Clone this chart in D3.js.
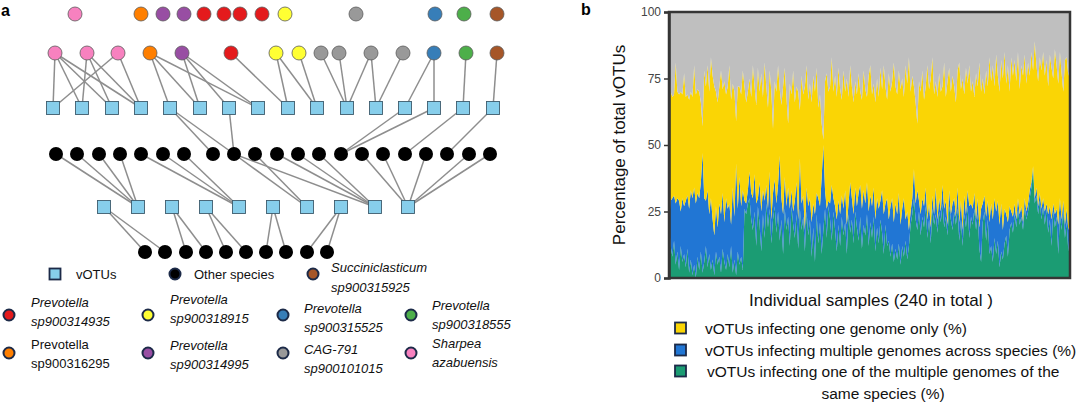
<!DOCTYPE html>
<html>
<head>
<meta charset="utf-8">
<script src="https://cdn.jsdelivr.net/npm/d3@7"></script>
<style>
    body { margin: 0; background: #fff; }
    svg { display: block; font-family: "Liberation Sans", Arial, sans-serif; }
</style>
</head>
<body>
<svg id="chart" width="1080" height="402"></svg>
<script>
// ---------- panel b : share of vOTUs in each of the 240 samples (%) ----------
const sameSpecies = [
    20,12,8,14,5,10,3,12,6,9,4,11,2,7,1,5,0,8,3,10,2,6,12,4,9,3,7,1,10,5,8,2,11,6,3,9,4,12,2,7,1,10,5,8,3,26,24,28,
    30,22,18,25,12,27,20,10,24,15,28,19,26,13,22,27,17,25,14,22,9,26,18,23,12,27,20,15,24,11,26,18,23,10,25,16,22,8,19,6,24,13,21,9,18,26,15,27,
    22,14,25,18,10,20,12,23,16,21,9,24,17,22,13,25,19,14,23,11,20,16,24,12,21,15,23,10,19,13,22,17,9,20,12,14,8,13,6,11,7,13,5,12,8,14,7,12,
    20,24,30,22,18,25,16,23,19,27,15,22,13,26,20,24,17,25,21,28,19,23,16,27,22,18,25,20,26,14,22,12,24,19,27,15,23,20,26,18,24,11,6,21,25,14,22,9,
    12,6,15,9,14,4,10,7,13,16,8,18,21,17,24,19,26,20,23,18,27,22,25,30,34,41,28,31,24,29,22,27,20,26,17,22,12,25,19,23,9,24,18,26,15,21,10,20
];
const acrossSpecies = [
    1,17,22,17,23,20,26,13,24,18,25,20,24,26,29,29,28,24,27,26,45,24,17,29,15,27,15,15,17,14,20,22,21,15,27,17,24,8,32,16,42,16,33,19,30,3,4,5,
    10,10,12,14,16,3,16,15,9,14,7,7,14,9,10,10,11,10,32,8,15,12,9,11,14,6,5,14,12,11,19,10,8,8,9,11,8,13,9,18,8,17,6,29,32,7,11,2,
    6,21,5,9,12,9,12,8,10,12,11,4,19,8,11,9,8,18,12,15,13,12,12,13,10,12,11,12,11,13,7,16,15,8,18,8,19,17,15,17,17,19,15,14,22,8,18,6,
    5,6,11,6,15,4,8,7,8,7,7,6,6,5,4,10,5,5,4,7,7,6,4,6,2,10,5,3,8,7,7,6,7,5,6,12,5,6,6,4,6,8,20,7,6,9,7,12,
    16,16,15,16,15,16,18,11,13,8,13,9,4,6,4,3,4,4,4,3,3,3,3,3,2,1,2,3,3,3,4,3,5,2,7,5,10,3,5,3,11,6,4,3,5,5,8,1
];
const oneGenome = [
    59,41,38,38,53,40,40,45,39,50,39,38,41,37,38,46,41,39,40,30,10,48,43,47,46,53,54,56,43,47,44,54,39,53,39,46,52,47,39,47,16,46,34,42,45,43,38,37,
    35,36,50,33,37,49,34,52,35,52,37,38,38,48,24,37,42,45,25,35,48,41,41,24,47,36,53,37,36,48,18,48,38,54,46,40,43,45,48,46,47,34,42,20,2,41,51,41,
    44,48,40,49,46,50,47,36,52,37,55,40,44,42,42,40,42,45,35,41,45,43,32,51,49,42,39,44,45,42,50,38,56,44,37,55,43,44,60,44,45,46,51,49,38,58,48,65,
    45,46,31,38,25,45,46,48,40,38,58,43,56,52,45,40,46,47,45,37,55,39,54,46,46,48,42,43,44,60,42,57,38,55,40,53,42,48,36,55,42,62,44,47,38,55,43,62,
    46,58,42,59,47,50,54,57,59,49,59,43,58,53,54,52,55,47,53,55,54,48,53,43,49,36,59,46,47,51,52,55,51,54,48,57,57,47,62,54,53,55,55,41,62,57,58,59
];
const yTicks = [0, 25, 50, 75, 100];
const areaLegend = [
    ['one', 'vOTUs infecting one genome only (%)'],
    ['across', 'vOTUs infecting multiple genomes across species (%)'],
    ['same', 'vOTUs infecting one of the multiple genomes of the', 'same species (%)']
];

// ---------- panel a : host / vOTU network ----------
const speciesColor = {
    red: '#e41a1c', blue: '#377eb8', green: '#4daf4a', purple: '#984ea3', orange: '#ff7f00',
    yellow: '#ffff33', brown: '#a65628', pink: '#f781bf', gray: '#999999'
};
// nodes per level, positions along the panel
const unlinkedHosts = [['pink',75],['orange',141],['purple',163],['purple',184],['red',204],['red',224],['red',240],
    ['red',262],['yellow',285],['gray',356],['blue',435],['green',464],['brown',497]];
const linkedHosts = [['pink',55],['pink',87],['pink',118],['orange',150],['purple',182],['red',231],['yellow',276],
    ['yellow',299],['gray',321],['gray',339],['gray',371],['gray',403],['blue',434],['green',466],['brown',497]];
const votusA = [53,82,112,141,170,200,229,258,288,317,347,376,405,434,463,493];
const othersA = [56,77,99,120,141,163,184,213,234,255,277,298,319,341,362,383,405,426,447,469,490];
const votusB = [104,138,172,206,239,273,307,341,375,408];
const othersB = [145,165,186,206,226,246,266,286,307,327];
const levelY = [14, 53, 108, 154, 207, 252];

const hostToVotu = [[0,0],[0,1],[0,2],[0,3],[1,1],[1,2],[1,3],[2,0],[2,3],[3,4],[3,5],[3,7],[4,5],[4,6],[4,7],
    [5,8],[6,8],[6,9],[7,9],[8,10],[9,10],[10,10],[10,11],[11,11],[12,12],[12,13],[13,14],[14,15]];
const votuToOtherA = [[4,7],[4,8],[6,8],[12,13],[13,13],[14,16],[15,18]];
const otherToVotuB = [[0,1],[1,1],[2,1],[3,1],[4,4],[5,4],[6,4],[8,6],[8,8],[9,6],[10,8],[11,8],[12,8],
    [14,9],[15,9],[17,9],[19,9],[20,9]];
const votuToOtherB = [[0,0],[0,1],[2,2],[2,3],[3,4],[3,5],[5,6],[5,7],[7,8],[7,9]];

const hostLegend = [
    ['red', ['Prevotella', 'sp900314935'], true],
    ['yellow', ['Prevotella', 'sp900318915'], true],
    ['blue', ['Prevotella', 'sp900315525'], true],
    ['green', ['Prevotella', 'sp900318555'], true],
    ['orange', ['Prevotella', 'sp900316295'], false],
    ['purple', ['Prevotella', 'sp900314995'], true],
    ['gray', ['CAG-791', 'sp900101015'], true],
    ['pink', ['Sharpea', 'azabuensis'], true]
];

const svg = d3.select('#chart');

renderNetwork();
renderNetworkLegend();
renderArea();
renderAreaLegend();

function renderNetwork() {
    const g = svg.append('g');
    const x = d3.scaleLinear().domain([0, 500]).range([0, 500]);
    const links = g.append('g').attr('stroke', '#8e8e8e').attr('stroke-width', 1.5);

    function link(list, fromX, fromLevel, toX, toLevel) {
        links.selectAll(null).data(list).enter().append('line')
            .attr('x1', d => x(fromX[d[0]])).attr('y1', levelY[fromLevel])
            .attr('x2', d => x(toX[d[1]])).attr('y2', levelY[toLevel]);
    }
    link(hostToVotu, linkedHosts.map(d => d[1]), 1, votusA, 2);
    link(votuToOtherA, votusA, 2, othersA, 3);
    link(otherToVotuB, othersA, 3, votusB, 4);
    link(votuToOtherB, votusB, 4, othersB, 5);

    [[unlinkedHosts, 0], [linkedHosts, 1]].forEach(([list, lvl]) => {
        g.selectAll(null).data(list).enter().append('circle')
            .attr('cx', d => x(d[1])).attr('cy', levelY[lvl]).attr('r', 7)
            .attr('fill', d => speciesColor[d[0]])
            .attr('stroke', '#5a5a5a').attr('stroke-width', 0.8);
    });
    [[votusA, 2], [votusB, 4]].forEach(([list, lvl]) => {
        g.selectAll(null).data(list).enter().append('rect')
            .attr('x', d => x(d) - 6.5).attr('y', levelY[lvl] - 6.5)
            .attr('width', 13).attr('height', 13)
            .attr('fill', '#87ceeb').attr('stroke', '#3d5c6e').attr('stroke-width', 0.9);
    });
    [[othersA, 3], [othersB, 5]].forEach(([list, lvl]) => {
        g.selectAll(null).data(list).enter().append('circle')
            .attr('cx', d => x(d)).attr('cy', levelY[lvl]).attr('r', 7).attr('fill', '#000');
    });

    svg.append('text').attr('x', 1).attr('y', 16).attr('font-size', 16).attr('font-weight', 'bold').text('a');
}

function renderNetworkLegend() {
    const g = svg.append('g').attr('font-size', 13).attr('fill', '#111');
    const navy = '#1c2a48';

    g.append('rect').attr('x', 49.5).attr('y', 268.5).attr('width', 11).attr('height', 11)
        .attr('fill', '#87ceeb').attr('stroke', navy).attr('stroke-width', 1.8);
    g.append('text').attr('x', 76).attr('y', 279).text('vOTUs');
    g.append('circle').attr('cx', 175).attr('cy', 274).attr('r', 5.5).attr('fill', '#000').attr('stroke', navy).attr('stroke-width', 2);
    g.append('text').attr('x', 194).attr('y', 279).text('Other species');
    g.append('circle').attr('cx', 313).attr('cy', 274).attr('r', 5.5).attr('fill', speciesColor.brown).attr('stroke', navy).attr('stroke-width', 2);
    const s = g.append('text').attr('font-style', 'italic');
    s.append('tspan').attr('x', 331).attr('y', 272).text('Succiniclasticum');
    s.append('tspan').attr('x', 331).attr('y', 292).text('sp900315925');

    // two rows of four entries
    const cols = [9, 148, 283, 411];
    const circleY = [315, 353];
    const textY = [[307, 304, 313, 310], [349, 350, 354, 348]];
    const textX = [22, 22, 21, 21];
    hostLegend.forEach((d, i) => {
        const r = Math.floor(i / 4), c = i % 4;
        g.append('circle').attr('cx', cols[c]).attr('cy', circleY[r]).attr('r', 5.5)
            .attr('fill', speciesColor[d[0]]).attr('stroke', navy).attr('stroke-width', 2);
        const t = g.append('text').attr('font-style', d[2] ? 'italic' : 'normal');
        d[1].forEach((line, k) => {
            t.append('tspan').attr('x', cols[c] + textX[c]).attr('y', textY[r][c] + k * 18.5).text(line);
        });
    });
}

function renderArea() {
    const n = oneGenome.length;
    const rows = d3.range(n).map(i => ({
        same: sameSpecies[i],
        across: acrossSpecies[i],
        one: oneGenome[i],
        rest: 100 - sameSpecies[i] - acrossSpecies[i] - oneGenome[i]
    }));
    const colors = { same: '#1b9c73', across: '#2176d4', one: '#fad505', rest: '#bfbfbf' };
    const series = d3.stack().keys(['same', 'across', 'one', 'rest'])(rows);

    const x = d3.scaleLinear().domain([0, n - 1]).range([669, 1070]);
    const y = d3.scaleLinear().domain([0, 100]).range([278, 12]);

    const area = d3.area()
        .x((d, i) => x(i))
        .y0(d => y(d[0]))
        .y1(d => y(d[1]));

    svg.append('g').selectAll('path').data(series).enter().append('path')
        .attr('d', area)
        .attr('fill', d => colors[d.key]);

    svg.append('rect').attr('x', 669).attr('y', 12).attr('width', 401).attr('height', 266)
        .attr('fill', 'none').attr('stroke', '#353535').attr('stroke-width', 2.5);

    const axis = svg.append('g').attr('transform', 'translate(669,0)')
        .call(d3.axisLeft(y).tickValues(yTicks).tickSize(5).tickPadding(3).tickFormat(d3.format('d')));
    axis.select('.domain').attr('stroke', '#353535').attr('stroke-width', 2.5);
    axis.selectAll('.tick line').attr('stroke', '#353535').attr('stroke-width', 1.5);
    axis.selectAll('.tick text').attr('fill', '#444').attr('font-size', 12)
        .attr('font-family', '"Liberation Sans", Arial, sans-serif');

    svg.append('text')
        .attr('transform', 'translate(625,145) rotate(-90)')
        .attr('text-anchor', 'middle').attr('font-size', 17).attr('fill', '#111')
        .text('Percentage of total vOTUs');

    svg.append('text').attr('x', 871).attr('y', 306)
        .attr('text-anchor', 'middle').attr('font-size', 17).attr('fill', '#111')
        .text('Individual samples (240 in total )');

    svg.append('text').attr('x', 581).attr('y', 15).attr('font-size', 16).attr('font-weight', 'bold').text('b');

    renderArea.colors = colors;
}

function renderAreaLegend() {
    const colors = renderArea.colors;
    const g = svg.append('g').attr('font-size', 15.5).attr('fill', '#111');
    const rowY = [328, 350, 371];
    areaLegend.forEach((d, i) => {
        g.append('rect').attr('x', 675).attr('y', rowY[i] - 5.5).attr('width', 11).attr('height', 11)
            .attr('fill', colors[d[0]]).attr('stroke', '#1c2a48').attr('stroke-width', 1.8);
        g.append('text').attr('x', i === 2 ? 707 : 705).attr('y', rowY[i] + 5.5).text(d[1]);
        if (d[2]) {
            g.append('text').attr('x', 883).attr('y', rowY[i] + 27.5).attr('text-anchor', 'middle').text(d[2]);
        }
    });
}
</script>
</body>
</html>
